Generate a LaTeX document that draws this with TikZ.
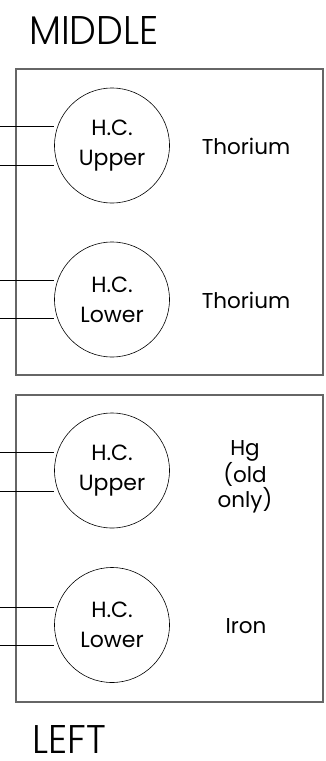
\documentclass[tikz,border=0pt]{standalone}
\usepackage{fontspec}
\setmainfont{Poppins}
\newfontfamily\cadfont{Poppins Light}
\usetikzlibrary{positioning}
\begin{document}
\begin{tikzpicture}[x=1pt,y=-1pt,
hc/.style={draw, circle, minimum size=115pt, inner sep=0pt, line width=0.6pt, align=center, font=\fontsize{22}{30}\selectfont},
mat/.style={align=center, inner sep=0pt, font=\fontsize{21.5}{25}\selectfont},
pane/.style={draw=black!60, line width=1.1pt},
wire/.style={draw, line width=0.6pt},
side/.style={anchor=base west, inner sep=0pt, xscale=0.95, font=\cadfont\fontsize{40}{40}\selectfont}
]
\useasboundingbox (0,0) rectangle (326,761);

% position labels
\node[side] (middle) at (29,44) {MIDDLE};
\node[side] (left) at (32,753) {LEFT};

% middle cassette
\draw[pane] (16,69) rectangle (323,375);
\node[hc] (hcu1) at (112,145.5) {H.C.\\Upper};
\node[hc] (hcl1) at (112,299.5) {H.C.\\Lower};
\node[mat, anchor=base] (mu1) at (246,154) {Thorium};
\node[mat, anchor=base] (ml1) at (246,308) {Thorium};

% left cassette
\draw[pane] (16,395) rectangle (323,702);
\node[hc] (hcu2) at (112,470.5) {H.C.\\Upper};
\node[hc] (hcl2) at (112,625) {H.C.\\Lower};
\node[mat] (mu2) at (245,477) {Hg\\(old\\only)};
\node[mat, anchor=base] (ml2) at (246,633) {Iron};

% wires
\coordinate (w1a) at (0,126);
\coordinate (w1b) at (0,165);
\coordinate (w2a) at (0,280);
\coordinate (w2b) at (0,318);
\coordinate (w3a) at (0,452);
\coordinate (w3b) at (0,491);
\coordinate (w4a) at (0,607);
\coordinate (w4b) at (0,645);
\draw[wire] (w1a) -- (w1a -| hcu1.west);
\draw[wire] (w1b) -- (w1b -| hcu1.west);
\draw[wire] (w2a) -- (w2a -| hcl1.west);
\draw[wire] (w2b) -- (w2b -| hcl1.west);
\draw[wire] (w3a) -- (w3a -| hcu2.west);
\draw[wire] (w3b) -- (w3b -| hcu2.west);
\draw[wire] (w4a) -- (w4a -| hcl2.west);
\draw[wire] (w4b) -- (w4b -| hcl2.west);
\end{tikzpicture}
\end{document}
